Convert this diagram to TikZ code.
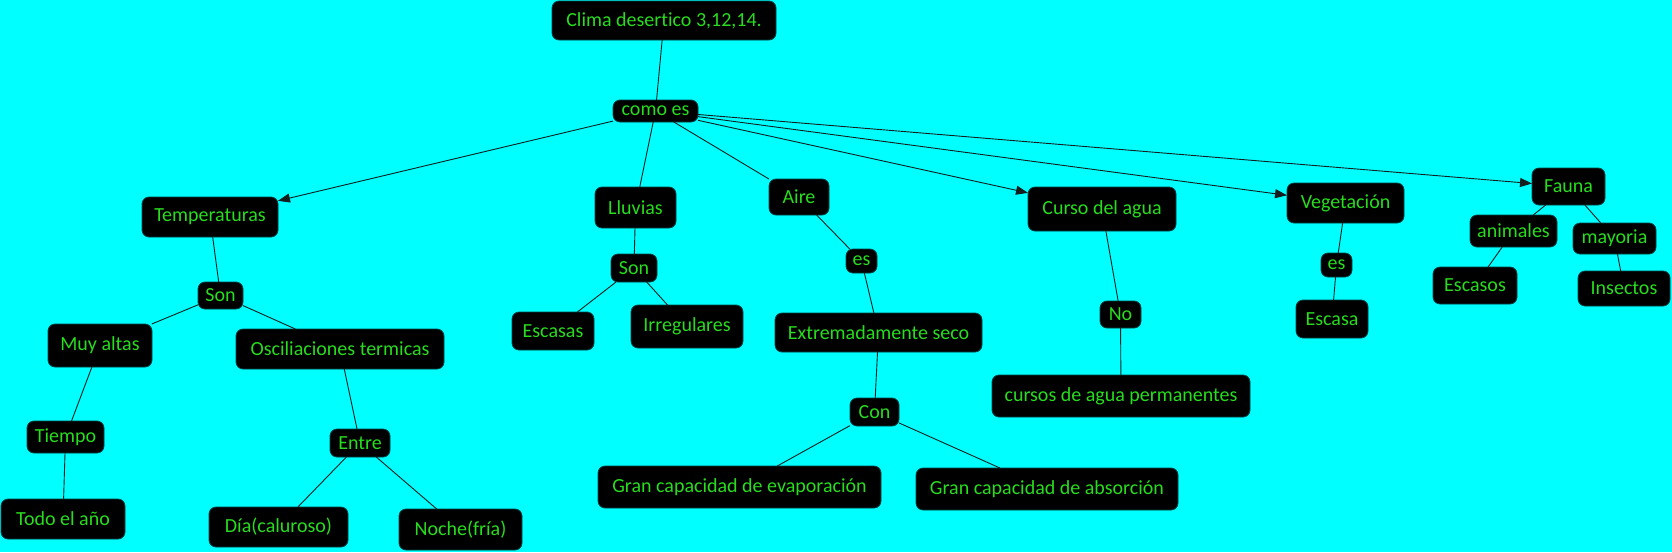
\documentclass[tikz,border=0pt]{standalone}
\usepackage{fontspec}
\setmainfont{Carlito}[Ligatures={NoCommon}]
\usetikzlibrary{arrows.meta}
\definecolor{bg}{RGB}{0,255,255}
\definecolor{txt}{RGB}{40,220,30}
\definecolor{edge}{RGB}{0,70,70}
\definecolor{ln}{RGB}{20,30,30}
\tikzset{
  box/.style={fill=black, draw=edge, line width=0.8pt, rounded corners=7pt,
    text=txt, inner sep=0pt, outer sep=0pt, font=\fontsize{20}{22}\selectfont, align=center},
  link/.style={draw=ln, line width=0.9pt},
  arr/.style={link, -{Triangle[length=12pt,width=9pt]}}
}
\newcommand{\bx}[6]{\node[box, minimum width=#4pt, minimum height=#5pt] (#1) at (#2,#3) {#6};}
\begin{document}
\begin{tikzpicture}[x=1pt,y=-1pt]
\fill[bg] (0,0) rectangle (1672,552);
\useasboundingbox (0,0) rectangle (1672,552);
\bx{clima}{664}{20.5}{224}{39}{Clima desertico 3,12,14.}
\bx{comoes}{655.5}{111}{85}{22}{como es}
\bx{temp}{210}{217}{136}{40}{Temperaturas}
\bx{sona}{220.5}{295.5}{45}{27}{Son}
\bx{muy}{100}{345.5}{104}{43}{Muy altas}
\bx{osc}{340}{349}{208}{40}{Osciliaciones termicas}
\bx{tiempo}{65.5}{437}{77}{32}{Tiempo}
\bx{todo}{63}{519}{124}{40}{Todo el año}
\bx{entre}{360}{443}{60}{28}{Entre}
\bx{dia}{278.5}{527}{139}{40}{Día(caluroso)}
\bx{noche}{460.5}{529.5}{123}{41}{Noche(fría)}
\bx{lluvias}{635.5}{207.5}{81}{41}{Lluvias}
\bx{sonb}{634}{268}{46}{28}{Son}
\bx{escasas}{553}{331}{82}{38}{Escasas}
\bx{irreg}{687}{326.5}{112}{43}{Irregulares}
\bx{aire}{799}{197}{60}{36}{Aire}
\bx{esa}{861.5}{261}{31}{24}{es}
\bx{extr}{878.5}{332.5}{207}{39}{Extremadamente seco}
\bx{con}{874.5}{412}{49}{28}{Con}
\bx{evap}{739.5}{487}{283}{42}{Gran capacidad de evaporación}
\bx{absn}{1047}{489}{262}{42}{Gran capacidad de absorción}
\bx{curso}{1102}{209}{148}{44}{Curso del agua}
\bx{no}{1120.5}{314.5}{41}{27}{No}
\bx{cursos}{1121}{396}{258}{42}{cursos de agua permanentes}
\bx{veg}{1345.5}{203}{117}{40}{Vegetación}
\bx{esb}{1336.5}{265}{31}{24}{es}
\bx{escasa}{1332}{319}{72}{38}{Escasa}
\bx{fauna}{1568.5}{186.5}{73}{37}{Fauna}
\bx{animales}{1513.5}{231}{87}{32}{animales}
\bx{mayoria}{1614.5}{238.5}{83}{31}{mayoria}
\bx{escasos}{1475}{285.5}{84}{37}{Escasos}
\bx{insectos}{1624}{288.5}{92}{35}{Insectos}
\draw[link] (clima) -- (comoes);
\draw[arr] (comoes) -- (temp);
\draw[link] (comoes) -- (lluvias);
\draw[link] (comoes) -- (aire);
\draw[arr] (comoes) -- (curso);
\draw[arr] (comoes) -- (veg);
\draw[arr] (comoes) -- (fauna);
\draw[link] (temp) -- (sona);
\draw[link] (sona) -- (muy);
\draw[link] (sona) -- (osc);
\draw[link] (muy) -- (tiempo);
\draw[link] (tiempo) -- (todo);
\draw[link] (osc) -- (entre);
\draw[link] (entre) -- (dia);
\draw[link] (entre) -- (noche);
\draw[link] (lluvias) -- (sonb);
\draw[link] (sonb) -- (escasas);
\draw[link] (sonb) -- (irreg);
\draw[link] (aire) -- (esa);
\draw[link] (esa) -- (extr);
\draw[link] (extr) -- (con);
\draw[link] (con) -- (evap);
\draw[link] (con) -- (absn);
\draw[link] (curso) -- (no);
\draw[link] (no) -- (cursos);
\draw[link] (veg) -- (esb);
\draw[link] (esb) -- (escasa);
\draw[link] (fauna) -- (animales);
\draw[link] (fauna) -- (mayoria);
\draw[link] (animales) -- (escasos);
\draw[link] (mayoria) -- (insectos);
\end{tikzpicture}
\end{document}
